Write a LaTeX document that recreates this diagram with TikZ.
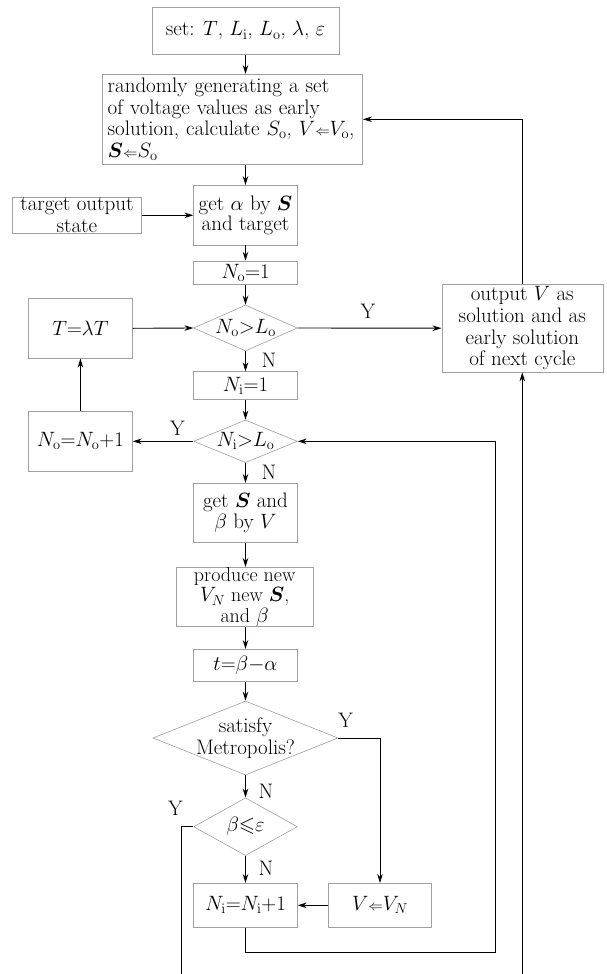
\documentclass[tikz,border=0pt]{standalone}
\usepackage{amsmath,amssymb}
\usetikzlibrary{arrows.meta,shapes.geometric}
\definecolor{boxgray}{RGB}{160,160,160}
\newcommand{\fsz}{\fontsize{21}{21.7}\selectfont}
\newcommand{\fszt}{\fontsize{21}{18.5}\selectfont}
\newcommand{\fszp}{\fontsize{20}{20.5}\selectfont}
\newcommand{\larr}{{\scriptstyle\Leftarrow}}
\tikzset{
  boxnode/.style={draw=boxgray, line width=0.6pt, inner sep=0pt, align=center, font=\fsz},
  dianode/.style={draw=boxgray, line width=0.6pt, inner sep=0pt, diamond},
  dtext/.style={align=center, font=\fsz, inner sep=0pt},
  lab/.style={font=\fsz, inner sep=0pt},
  conn/.style={line width=0.9pt, -{Stealth[length=9pt,width=5.5pt]}},
  plain/.style={line width=0.9pt}
}
\begin{document}
\begin{tikzpicture}[x=1pt,y=-1pt]
\useasboundingbox[fill=white] (0,0) rectangle (607,974);
% boxes
\node[boxnode, minimum width=187pt, minimum height=47pt] (set) at (245.5,30.8)
  {set: $T$, $L_{\mathrm{i}}$, $L_{\mathrm{o}}$, $\lambda$, $\varepsilon$};
\node[boxnode, minimum width=260pt, minimum height=90pt, text width=250pt, inner xsep=5pt, align=left] (rand) at (232.7,119.3)
  {randomly generating a set\\ of voltage values as early\\ solution, calculate $S_{\mathrm{o}}$, $V\larr V_{\mathrm{o}}$,\\ $\boldsymbol{S}\larr S_{\mathrm{o}}$};
\node[boxnode, minimum width=129pt, minimum height=36pt] (target) at (76.9,215.3)
  {target output\\state};
\node[boxnode, minimum width=103.7pt, minimum height=59.7pt, font=\fszt] (getalpha) at (245.5,215.2)
  {get $\alpha$ by $\boldsymbol{S}$\\and target};
\node[boxnode, minimum width=103.7pt, minimum height=23.3pt] (no1) at (245.5,272.7)
  {$N_{\mathrm{o}}{=}1$};
\node[boxnode, minimum width=104pt, minimum height=60pt] (tlt) at (80.4,328.3)
  {$T{=}\lambda T$};
\node[dianode, minimum width=103.7pt, minimum height=46pt,
  label={[dtext]center:{$N_{\mathrm{o}}{>}L_{\mathrm{o}}$}}] (d1) at (245.5,328) {};
\node[boxnode, minimum width=161pt, minimum height=87.7pt] (out) at (522.3,328.2)
  {output $V$ as\\solution and as\\early solution\\of next cycle};
\node[boxnode, minimum width=103.7pt, minimum height=27.6pt] (ni1) at (245.5,385.5)
  {$N_{\mathrm{i}}{=}1$};
\node[boxnode, minimum width=104pt, minimum height=59.3pt] (noinc) at (80.4,441.3)
  {$N_{\mathrm{o}}{=}N_{\mathrm{o}}{+}1$};
\node[dianode, minimum width=103.7pt, minimum height=42.7pt,
  label={[dtext]center:{$N_{\mathrm{i}}{>}L_{\mathrm{o}}$}}] (d2) at (245.5,441.3) {};
\node[boxnode, minimum width=103.7pt, minimum height=59pt] (gets) at (245.5,512.8)
  {get $\boldsymbol{S}$ and\\$\beta$ by $V$};
\node[boxnode, minimum width=136.3pt, minimum height=59.4pt, font=\fszp] (prod) at (244.7,597)
  {produce new\\$V_N$ new $\boldsymbol{S}$,\\and $\beta$};
\node[boxnode, minimum width=103.7pt, minimum height=32.4pt] (tba) at (245.5,665.5)
  {$t{=}\beta{-}\alpha$};
\node[dianode, minimum width=185pt, minimum height=74pt,
  label={[dtext]center:{satisfy\\Metropolis?}}] (d3) at (245.5,738) {};
\node[dianode, minimum width=103.7pt, minimum height=57.7pt,
  label={[dtext]center:{$\beta{\leqslant}\varepsilon$}}] (d4) at (245.5,826.7) {};
\node[boxnode, minimum width=103.7pt, minimum height=44pt] (niinc) at (245.5,905.3)
  {$N_{\mathrm{i}}{=}N_{\mathrm{i}}{+}1$};
\node[boxnode, minimum width=103.4pt, minimum height=44pt] (vvn) at (380,905.3)
  {$V\larr V_N$};
% labels
\node[lab] (y1) at (367.8,311.7) {Y};
\node[lab] (n1) at (269,360.7) {N};
\node[lab] (y2) at (177.3,428.3) {Y};
\node[lab] (n2) at (269,472.3) {N};
\node[lab] (y3) at (345.7,720) {Y};
\node[lab] (n3) at (266,791.7) {N};
\node[lab] (y4) at (175.4,808.3) {Y};
\node[lab] (n4) at (266,868.3) {N};
% free ends
\coordinate (bl) at (181.2,974);
\coordinate (br) at (522.3,974);
\coordinate (lp) at (495.5,952.7);
% connectors
\draw[conn] (set.south) -- (set.south |- rand.north);
\draw[conn] (rand.south -| getalpha.north) -- (getalpha.north);
\draw[conn] (target.east) -- (target.east -| getalpha.west);
\draw[conn] (getalpha.south) -- (no1.north);
\draw[conn] (no1.south) -- (d1.north);
\draw[conn] (tlt.east) -- (d1.west);
\draw[conn] (d1.east) -- (out.west);
\draw[conn] (d1.south) -- (ni1.north);
\draw[conn] (ni1.south) -- (d2.north);
\draw[conn] (d2.west) -- (noinc.east);
\draw[conn] (noinc.north) -- (tlt.south);
\draw[conn] (d2.south) -- (gets.north);
\draw[conn] (gets.south) -- (gets.south |- prod.north);
\draw[conn] (prod.south -| tba.north) -- (tba.north);
\draw[conn] (tba.south) -- (d3.north);
\draw[conn] (d3.east) -| (vvn.north);
\draw[conn] (d3.south) -- (d4.north);
\draw[conn] (d4.south) -- (niinc.north);
\draw[plain] (d4.west) -| (bl);
\draw[conn] (vvn.west) -- (niinc.east);
\draw[conn] (niinc.south) |- (lp) |- (d2.east);
\draw[conn] (br) -- (out.south);
\draw[conn] (out.north) |- (rand.east);
\end{tikzpicture}
\end{document}
